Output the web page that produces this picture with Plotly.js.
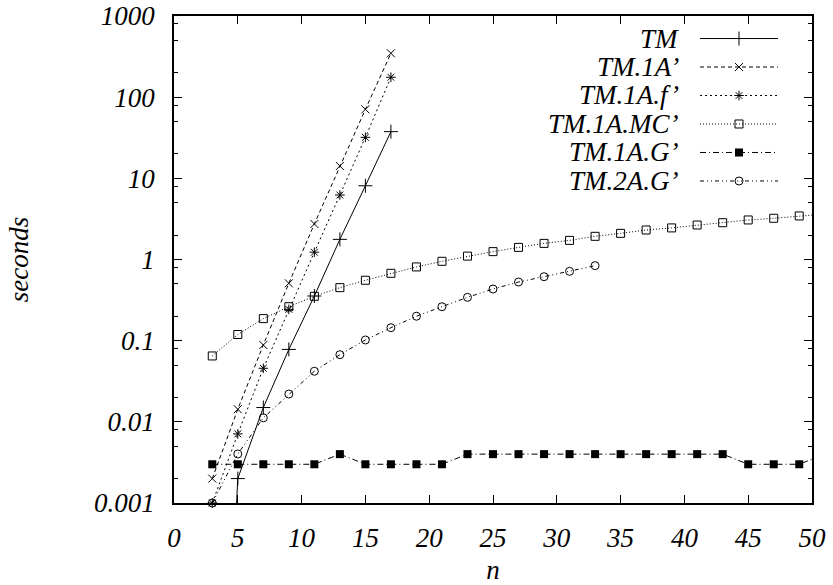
<!DOCTYPE html>
<html>
<head>
<meta charset="utf-8">
<script src="https://cdn.plot.ly/plotly-3.0.1.min.js"></script>
<style>
  html, body { margin: 0; padding: 0; background: #fff; }
  #chart { width: 833px; height: 585px; }
</style>
</head>
<body>
<div id="chart"></div>
<script>
// Run times (seconds) against problem size n, log scale.
const nShort = [3, 5, 7, 9, 11, 13, 15, 17];
const nMid = [3, 5, 7, 9, 11, 13, 15, 17, 19, 21, 23, 25, 27, 29, 31, 33];
const nLong = [3, 5, 7, 9, 11, 13, 15, 17, 19, 21, 23, 25, 27, 29, 31, 33,
               35, 37, 39, 41, 43, 45, 47, 49, 51];

const tmTimes = [1e-9, 0.002, 0.015, 0.078, 0.355, 1.77, 8.1, 37.6];
const tm1aTimes = [0.002, 0.0143, 0.0885, 0.509, 2.74, 14.2, 70.8, 347];
const tm1afTimes = [0.001, 0.0071, 0.0457, 0.243, 1.23, 6.23, 32, 176];
const tm1amcTimes = [0.0648, 0.119, 0.187, 0.262, 0.352, 0.45, 0.555, 0.676,
                     0.81, 0.95, 1.10, 1.25, 1.41, 1.58, 1.72, 1.93, 2.10,
                     2.31, 2.45, 2.66, 2.84, 3.07, 3.22, 3.44, 3.62];
const tm1agTimes = [0.003, 0.003, 0.003, 0.003, 0.003, 0.004, 0.003, 0.003,
                    0.003, 0.003, 0.004, 0.004, 0.004, 0.004, 0.004, 0.004,
                    0.004, 0.004, 0.004, 0.004, 0.004, 0.003, 0.003, 0.003, 0.004];
const tm2agTimes = [0.001, 0.00402, 0.0112, 0.022, 0.042, 0.0672, 0.102, 0.1445,
                    0.2, 0.262, 0.342, 0.433, 0.528, 0.614, 0.715, 0.84];

const seriesNames = ["TM", "TM.1A\u2019", "TM.1A.f\u2019", "TM.1A.MC\u2019", "TM.1A.G\u2019", "TM.2A.G\u2019"];

const xTickVals = [0, 5, 10, 15, 20, 25, 30, 35, 40, 45, 50];
const yTickVals = [0.001, 0.01, 0.1, 1, 10, 100, 1000];
const yTickText = ["0.001", "0.01", "0.1", "1", "10", "100", "1000"];
const yMinorVals = [0.002, 0.005, 0.008, 0.02, 0.05, 0.08, 0.2, 0.5, 0.8,
                    2, 5, 8, 20, 50, 80, 200, 500, 800];

const FONT = "serif";
const textFont = { family: FONT, size: 27, color: "#000", style: "italic" };

const INK = "#000";
const styles = [
  { line: { color: INK, width: 1, dash: "solid" },
    marker: { symbol: "cross-thin-open", size: 10, color: INK, line: { color: INK, width: 1 } } },
  { line: { color: INK, width: 1, dash: "4px,3px" },
    marker: { symbol: "x-thin-open", size: 8, color: INK, line: { color: INK, width: 1 } } },
  { line: { color: INK, width: 1, dash: "2px,3px" },
    marker: { symbol: "asterisk-open", size: 8, color: INK, line: { color: INK, width: 1 } } },
  { line: { color: INK, width: 1, dash: "1px,2px" },
    marker: { symbol: "square-open", size: 8, color: INK, line: { color: INK, width: 1 } } },
  { line: { color: INK, width: 1, dash: "6px,3px,1px,3px" },
    marker: { symbol: "square", size: 8, color: INK, line: { color: INK, width: 0 } } },
  { line: { color: INK, width: 1, dash: "4px,3px,1px,3px,1px,3px" },
    marker: { symbol: "circle-open", size: 8, color: INK, line: { color: INK, width: 1 } } }
];

const seriesX = [nShort, nShort, nShort, nLong, nLong, nMid];
const seriesY = [tmTimes, tm1aTimes, tm1afTimes, tm1amcTimes, tm1agTimes, tm2agTimes];

const traces = [];
seriesNames.forEach((name, i) => {
  // connecting line, clipped to the plot frame
  traces.push({
    type: "scatter", mode: "lines", name: name, showlegend: false,
    x: seriesX[i], y: seriesY[i], line: styles[i].line, cliponaxis: true,
    hoverinfo: "skip"
  });
  // point symbols, allowed to sit on the frame edge
  traces.push({
    type: "scatter", mode: "markers", name: name, showlegend: false,
    x: seriesX[i], y: seriesY[i], marker: styles[i].marker, cliponaxis: false
  });
});

// key: text on the left, sample line with symbol on the right
const keyX = [0, 0.5, 1];
const keyOpacity = [0, 1, 0];
seriesNames.forEach((name, i) => {
  traces.push({
    type: "scatter", mode: "lines+markers", showlegend: false, hoverinfo: "skip",
    xaxis: "x2", yaxis: "y2",
    x: keyX, y: keyX.map(() => i),
    line: styles[i].line,
    marker: Object.assign({}, styles[i].marker, { opacity: keyOpacity })
  });
});

const annotations = seriesNames.map((name, i) => ({
  text: name, xref: "paper", yref: "y2", x: 0.7947, y: i,
  xanchor: "right", yanchor: "middle", showarrow: false, font: textFont
}));

const axisCommon = {
  showline: true, linecolor: INK, linewidth: 1.5, mirror: "allticks",
  ticks: "inside", ticklen: 8, tickwidth: 1, tickcolor: INK,
  showgrid: false, zeroline: false, tickfont: textFont
};

const layout = {
  width: 833, height: 585,
  margin: { l: 174, r: 21, t: 16, b: 82 },
  paper_bgcolor: "#fff", plot_bgcolor: "#fff",
  showlegend: false,
  xaxis: Object.assign({}, axisCommon, {
    range: [0, 50], tickmode: "array", tickvals: xTickVals,
    ticklabelstandoff: 10,
    title: { text: "n", font: textFont, standoff: 12 }
  }),
  yaxis: Object.assign({}, axisCommon, {
    type: "log", range: [-3, 3], tickmode: "array",
    tickvals: yTickVals, ticktext: yTickText,
    ticklabelstandoff: 12,
    minor: { tickmode: "array", tickvals: yMinorVals, ticks: "inside", ticklen: 4, tickcolor: INK, tickwidth: 1, showgrid: false },
    title: { text: "seconds", font: textFont, standoff: 58 }
  }),
  xaxis2: { domain: [0.8245, 0.9467], range: [0, 1], visible: false, anchor: "y2", fixedrange: true },
  yaxis2: { domain: [0.632, 0.983], range: [5.5, -0.5], visible: false, anchor: "x2", fixedrange: true },
  annotations: annotations
};

Plotly.newPlot("chart", traces, layout, { displayModeBar: false });
</script>
</body>
</html>
